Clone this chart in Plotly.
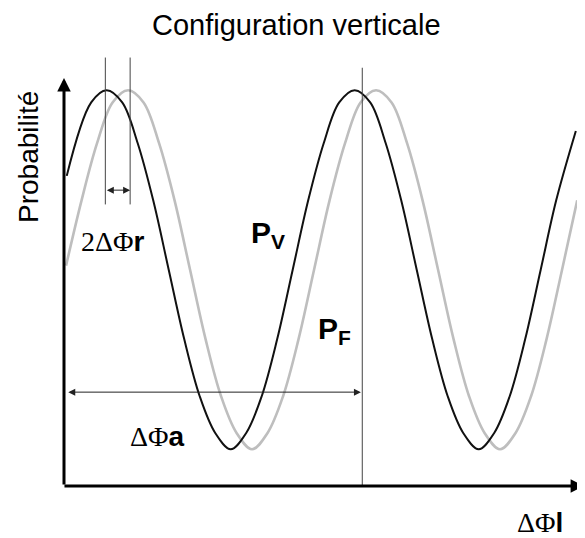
import plotly.graph_objects as go

# ---- data ----
# x: phase difference (arbitrary units, axis origin = 0), y: probability (axis 0..1)
pv_x = [4, 39.5, 62, 84.5, 107, 129.5, 152, 174.5, 197, 219.5, 242, 264.5, 287, 309.5,
        332, 354.5, 377, 399.5, 422, 444.5, 467, 489.5, 512, 534.5, 557, 579.5, 602,
        624.5, 647, 669.5, 692, 714.5, 743]
pv_y = [0.76, 0.94, 0.97, 0.94, 0.84, 0.70, 0.53, 0.36, 0.22, 0.13, 0.09, 0.13, 0.22, 0.36,
        0.53, 0.70, 0.84, 0.94, 0.97, 0.94, 0.84, 0.70, 0.53, 0.36, 0.22, 0.13, 0.09,
        0.13, 0.22, 0.36, 0.53, 0.70, 0.87]
pf_x = [3, 25.5, 48, 70.5, 93, 115.5, 138, 160.5, 183, 205.5, 228, 250.5, 273, 295.5,
        318, 340.5, 363, 385.5, 408, 430.5, 453, 475.5, 498, 520.5, 543, 565.5, 588,
        610.5, 633, 655.5, 678, 700.5, 723, 745]
pf_y = [0.54, 0.70, 0.84, 0.94, 0.97, 0.94, 0.84, 0.70, 0.53, 0.36, 0.22, 0.13, 0.09, 0.13,
        0.22, 0.36, 0.53, 0.70, 0.84, 0.94, 0.97, 0.94, 0.84, 0.70, 0.53, 0.36, 0.22,
        0.13, 0.09, 0.13, 0.22, 0.36, 0.53, 0.70]

r_marks_x = [60, 96]        # 2ΔΦr markers
r_marks_y = [0.69, 1.05]
r_arrow_y = 0.725
a_mark_x = 433              # ΔΦa marker
a_mark_top = 1.025
a_arrow_x = [4, 431]
a_arrow_y = 0.23
x_axis_end = 755
y_axis_end = 1.0

# page is offset by the default 8px body margin
OFF = 8
W, H = 585 - OFF, 538 - OFF
X_RANGE = [-81.29, 756.3]
Y_RANGE = [-0.1275, 1.1714]


def paper(px, py):
    return (px - OFF) / W, 1 - (py - OFF) / H


fig = go.Figure()
fig.add_trace(go.Scatter(x=pf_x, y=pf_y, mode="lines",
                         line=dict(color="#bebebe", width=2.6, shape="spline", smoothing=1.0),
                         showlegend=False, hoverinfo="skip"))
fig.add_trace(go.Scatter(x=pv_x, y=pv_y, mode="lines",
                         line=dict(color="#111111", width=2, shape="spline", smoothing=1.0),
                         showlegend=False, hoverinfo="skip"))

thin = dict(color="#444444", width=1)
shapes = []
for xv in r_marks_x:
    shapes.append(dict(type="line", xref="x", yref="y", x0=xv, x1=xv,
                       y0=r_marks_y[0], y1=r_marks_y[1], line=thin))
shapes.append(dict(type="line", xref="x", yref="y", x0=a_mark_x, x1=a_mark_x,
                   y0=0, y1=a_mark_top, line=thin))

ann = []
# axes with arrows
ann.append(dict(x=0, y=y_axis_end, ax=0, ay=0, xref="x", yref="y", axref="x", ayref="y",
                text="", showarrow=True, arrowhead=2, arrowsize=0.9, arrowwidth=3,
                arrowcolor="#000000", standoff=0, startstandoff=0))
ann.append(dict(x=x_axis_end, y=0, ax=-1.5, ay=0, xref="x", yref="y", axref="x", ayref="y",
                text="", showarrow=True, arrowhead=2, arrowsize=0.9, arrowwidth=3,
                arrowcolor="#000000", standoff=0, startstandoff=0))
# double arrows
ann.append(dict(x=r_marks_x[1], y=r_arrow_y, ax=r_marks_x[0], ay=r_arrow_y,
                xref="x", yref="y", axref="x", ayref="y", text="", showarrow=True,
                arrowhead=2, arrowside="end+start", arrowsize=1.4, arrowwidth=1,
                arrowcolor="#222222", standoff=0, startstandoff=0))
ann.append(dict(x=a_arrow_x[1], y=a_arrow_y, ax=a_arrow_x[0], ay=a_arrow_y,
                xref="x", yref="y", axref="x", ayref="y", text="", showarrow=True,
                arrowhead=2, arrowside="end+start", arrowsize=1.4, arrowwidth=1,
                arrowcolor="#222222", standoff=0, startstandoff=0))

SANS = "Liberation Sans, Arial, sans-serif"
SERIF = "Liberation Serif, Times New Roman, serif"


def label(text, px, py, size, angle=0):
    x, y = paper(px, py)
    ann.append(dict(x=x, y=y, xref="paper", yref="paper", text=text, showarrow=False,
                    xanchor="center", yanchor="middle", textangle=angle,
                    font=dict(family=SANS, size=size, color="#000000")))


def greek(s):
    return f'<span style="font-family:{SERIF}">{s}</span>'


label("Configuration verticale", 296, 25, 29)
label("Probabilité", 28, 157, 28, angle=-90)
label(greek("2ΔΦ") + "<b>r</b>", 112, 241, 28)
label("<b>P<sub>V</sub></b>", 268, 234, 30)
label("<b>P<sub>F</sub></b>", 334, 330, 30)
label(greek("ΔΦ") + "<b>a</b>", 157, 436, 28)
label(greek("ΔΦ") + "<b>l</b>", 540, 522, 28)

fig.update_layout(
    width=W, height=H,
    margin=dict(l=0, r=0, t=0, b=0, pad=0),
    paper_bgcolor="white", plot_bgcolor="white",
    xaxis=dict(range=X_RANGE, visible=False, fixedrange=True),
    yaxis=dict(range=Y_RANGE, visible=False, fixedrange=True),
    shapes=shapes, annotations=ann, showlegend=False,
)

fig.write_html("out.html")
